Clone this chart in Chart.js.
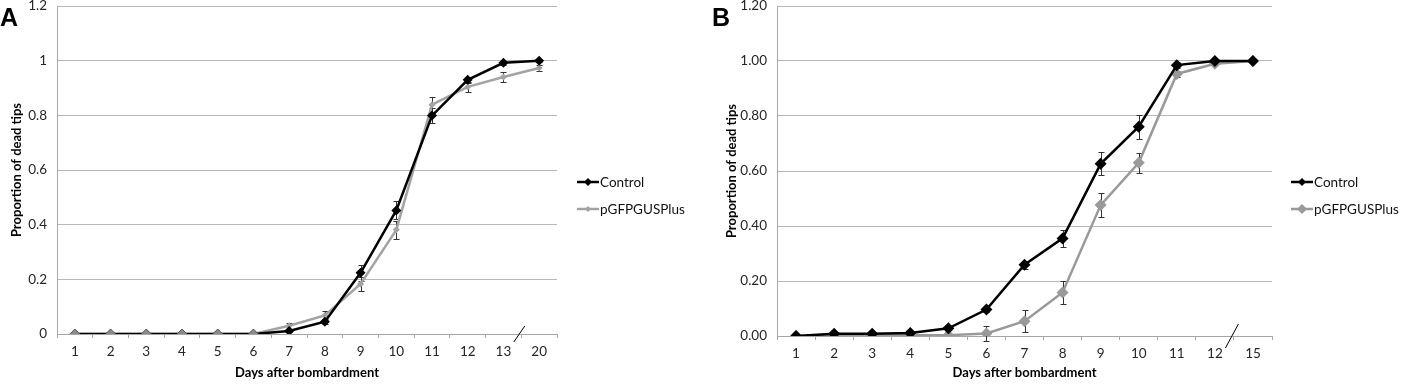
<!DOCTYPE html>
<html>
<head>
<meta charset="utf-8">
<script src="https://cdn.jsdelivr.net/npm/chart.js@4/dist/chart.umd.min.js"></script>
<style>
	body { margin: 0; background: #fff; }
	#wrap { position: relative; width: 1401px; height: 385px; overflow: hidden; }
	canvas { position: absolute; top: 0; }
	#chartA { left: 0; }
	#chartB { left: 700px; }
	.panel { position: absolute; font: bold 25px 'Liberation Sans', Arial, sans-serif; color: #000; }
</style>
</head>
<body>
<div id="wrap">
	<canvas id="chartA" width="700" height="385"></canvas>
	<canvas id="chartB" width="701" height="385"></canvas>
	<div class="panel" style="left:0px; top:3px;">A</div>
	<div class="panel" style="left:712px; top:3px;">B</div>
</div>
<script>
// panel A
const DAYS_A = ['1', '2', '3', '4', '5', '6', '7', '8', '9', '10', '11', '12', '13', '20']
const CONTROL_A = [0, 0, 0, 0, 0, 0, 0.011, 0.045, 0.224, 0.452, 0.799, 0.930, 0.992, 1.0]
const CONTROL_A_ERR = [0, 0, 0, 0, 0, 0, 0.005, 0.01, 0.03, 0.033, 0.027, 0.012, 0.008, 0.005]
const GFP_A = [0, 0, 0, 0, 0, 0, 0.03, 0.068, 0.183, 0.381, 0.839, 0.904, 0.94, 0.973]
const GFP_A_ERR = [0, 0, 0, 0, 0, 0, 0.012, 0.017, 0.025, 0.034, 0.027, 0.018, 0.017, 0.01]

// panel B
const DAYS_B = ['1', '2', '3', '4', '5', '6', '7', '8', '9', '10', '11', '12', '15']
const CONTROL_B = [0, 0.008, 0.008, 0.011, 0.028, 0.096, 0.259, 0.355, 0.626, 0.761, 0.985, 1.0, 1.0]
const CONTROL_B_ERR = [0, 0.003, 0.003, 0.004, 0.006, 0.01, 0.015, 0.03, 0.042, 0.043, 0.012, 0.005, 0]
const GFP_B = [0, 0, 0.003, 0.003, 0.003, 0.009, 0.054, 0.158, 0.476, 0.63, 0.953, 0.99, 1.0]
const GFP_B_ERR = [0, 0, 0, 0, 0, 0.027, 0.04, 0.042, 0.043, 0.036, 0.01, 0.005, 0]

const Y_TICKS = [0, 0.2, 0.4, 0.6, 0.8, 1.0, 1.2]

Chart.defaults.font.family = 'Lato, "Open Sans", sans-serif'
Chart.defaults.color = '#262626'

function diamond(ctx, x, y, r, fill) {
	ctx.beginPath()
	ctx.moveTo(x, y - r)
	ctx.lineTo(x + r, y)
	ctx.lineTo(x, y + r)
	ctx.lineTo(x - r, y)
	ctx.closePath()
	ctx.fillStyle = fill
	ctx.fill()
}

// error bars, drawn under the markers
const errorBars = {
	id: 'errorBars',
	beforeDatasetsDraw(chart) {
		const ctx = chart.ctx
		const y = chart.scales.y
		ctx.save()
		ctx.strokeStyle = '#333'
		ctx.lineWidth = 1
		chart.data.datasets.forEach((ds, i) => {
			const meta = chart.getDatasetMeta(i)
			meta.data.forEach((pt, j) => {
				const e = ds.errors[j]
				if (!e) return
				const top = Math.round(y.getPixelForValue(ds.data[j] + e)) + 0.5
				const bot = Math.round(y.getPixelForValue(ds.data[j] - e)) + 0.5
				const x = Math.round(pt.x) + 0.5
				ctx.beginPath()
				ctx.moveTo(x, top); ctx.lineTo(x, bot)
				ctx.moveTo(x - 3, top); ctx.lineTo(x + 3, top)
				ctx.moveTo(x - 3, bot); ctx.lineTo(x + 3, bot)
				ctx.stroke()
			})
		})
		ctx.restore()
	}
}

// axis break slash + legend with line and marker
const extras = {
	id: 'extras',
	afterDraw(chart, args, opts) {
		const ctx = chart.ctx
		const xs = chart.scales.x
		const n = chart.data.labels.length
		const bx = (xs.getPixelForTick(n - 2) + xs.getPixelForTick(n - 1)) / 2 - 2
		const by = chart.chartArea.bottom
		ctx.save()
		ctx.strokeStyle = '#000'
		ctx.lineWidth = 1
		ctx.beginPath()
		ctx.moveTo(bx - opts.slash[0], by + opts.slash[1])
		ctx.lineTo(bx + opts.slash[0], by - opts.slash[1])
		ctx.stroke()

		chart.data.datasets.forEach((ds, i) => {
			const ly = opts.top + i * 27
			ctx.strokeStyle = ds.borderColor
			ctx.lineWidth = ds.borderWidth
			ctx.beginPath()
			ctx.moveTo(opts.left, ly)
			ctx.lineTo(opts.left + 22, ly)
			ctx.stroke()
			diamond(ctx, opts.left + 11, ly, ds.legendRadius, ds.borderColor)
			ctx.fillStyle = '#111'
			ctx.font = '13.5px Lato, sans-serif'
			ctx.textBaseline = 'middle'
			ctx.fillText(ds.label, opts.left + 23, ly + 1)
		})
		ctx.restore()
	}
}

function makeChart(id, labels, control, controlErr, gfp, gfpErr, cfg) {
	return new Chart(document.getElementById(id), {
		type: 'line',
		data: {
			labels: labels,
			datasets: [
				{
					label: 'Control',
					data: control,
					errors: controlErr,
					borderColor: '#000',
					backgroundColor: '#000',
					pointBackgroundColor: cfg.controlFill,
					pointBorderColor: cfg.controlEdge,
					pointBorderWidth: cfg.controlEdgeWidth,
					borderWidth: 2.5,
					pointStyle: 'rectRot',
					pointRadius: cfg.controlRadius,
					legendRadius: 4,
					tension: 0,
				},
				{
					label: 'pGFPGUSPlus',
					data: gfp,
					errors: gfpErr,
					borderColor: cfg.gfpColor,
					backgroundColor: cfg.gfpColor,
					borderWidth: 2.5,
					pointStyle: 'rectRot',
					pointRadius: cfg.gfpRadius,
					pointBorderWidth: 0,
					legendRadius: cfg.gfpLegendRadius,
					tension: 0,
				},
			]
		},
		plugins: [errorBars, extras],
		options: {
			responsive: false,
			animation: false,
			events: [],
			layout: {
				padding: { left: 0, right: cfg.right, top: cfg.top, bottom: 0 }
			},
			plugins: {
				legend: { display: false },
				tooltip: { enabled: false },
				extras: { left: cfg.legendLeft, top: 182, slash: cfg.slash },
			},
			scales: {
				x: {
					offset: true,
					afterFit: (s) => { s.height = cfg.xHeight; s.paddingLeft = 0; s.paddingRight = 0 },
					grid: {
						offset: true,
						drawOnChartArea: false,
						drawTicks: true,
						tickLength: 4,
						color: '#a6a6a6',
					},
					border: { color: '#a6a6a6', width: 1 },
					ticks: { padding: 6, font: { size: 13.5 }, maxRotation: 0, autoSkip: false },
					title: {
						display: true,
						text: 'Days after bombardment',
						font: { size: 13, weight: 'bold' },
						color: '#000',
						padding: { top: 0, bottom: 4 },
					},
				},
				y: {
					min: 0,
					max: 1.2,
					afterFit: (s) => { s.width = cfg.yWidth; s.paddingTop = 0; s.paddingBottom = 0 },
					afterBuildTicks: (s) => { s.ticks = Y_TICKS.map(v => ({ value: v })) },
					grid: { drawTicks: false, color: '#b8b8b8' },
					border: { color: '#a6a6a6', width: 1 },
					ticks: {
						padding: 10,
						font: { size: 13.5 },
						callback: cfg.yFormat,
					},
					title: {
						display: true,
						text: 'Proportion of dead tips',
						font: { size: 13, weight: 'bold' },
						color: '#000',
						padding: { top: cfg.titlePad, bottom: 0 },
					},
				},
			}
		}
	})
}

const chartA = makeChart('chartA', DAYS_A, CONTROL_A, CONTROL_A_ERR, GFP_A, GFP_A_ERR, {
	right: 143, top: 6, xHeight: 51, yWidth: 57, titlePad: 9,
	legendLeft: 577, slash: [5.5, 8],
	controlRadius: 5, gfpRadius: 3.5, gfpLegendRadius: 3,
	// the flat start of panel A shows grey diamonds with a dark rim
	controlFill: (c) => c.raw === 0 ? '#8a8a8a' : '#000',
	controlEdge: (c) => c.raw === 0 ? '#555' : '#000',
	controlEdgeWidth: (c) => c.raw === 0 ? 1 : 0,
	gfpColor: '#a3a3a3',
	yFormat: (v) => String(Math.round(v * 10) / 10),
})

const chartB = makeChart('chartB', DAYS_B, CONTROL_B, CONTROL_B_ERR, GFP_B, GFP_B_ERR, {
	right: 129, top: 5, xHeight: 49, yWidth: 77, titlePad: 24,
	legendLeft: 591, slash: [6.5, 12],
	controlRadius: 6, gfpRadius: 6, gfpLegendRadius: 5,
	controlFill: '#000', controlEdge: '#000', controlEdgeWidth: 0,
	gfpColor: '#999999',
	yFormat: (v) => v.toFixed(2),
})
</script>
</body>
</html>
